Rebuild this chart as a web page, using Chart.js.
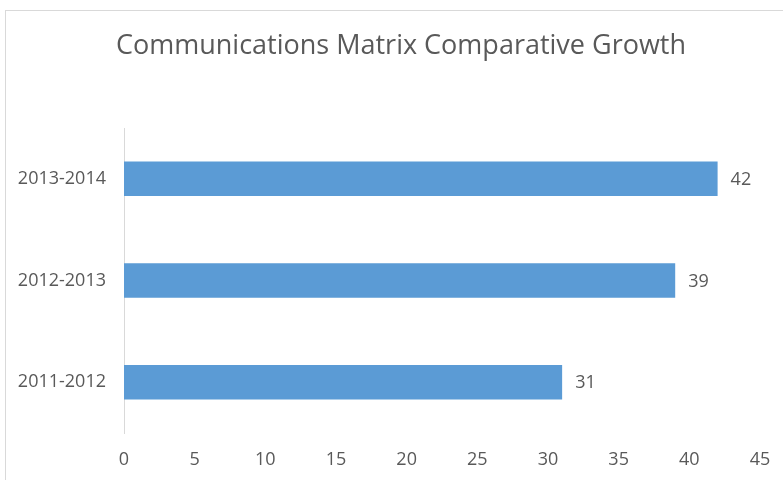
<!DOCTYPE html>
<html>
<head>
<meta charset="utf-8">
<title>Communications Matrix Comparative Growth</title>
<script src="https://cdn.jsdelivr.net/npm/chart.js@4"></script>
<style>
  html, body { margin: 0; padding: 0; background: #fff; }
  #wrap { position: relative; width: 783px; height: 480px; overflow: hidden; }
  #frame {
    position: absolute; left: 5px; top: 10px; width: 820px; height: 520px;
    border: 1px solid #d9d9d9; box-sizing: border-box;
  }
  #growthChart { position: absolute; left: 0; top: 0; }
</style>
</head>
<body>
<div id="wrap">
  <div id="frame"></div>
  <canvas id="growthChart" width="783" height="480"></canvas>
</div>
<script>
const chartTitle = 'Communications Matrix Comparative Growth';
const periods = ['2013-2014', '2012-2013', '2011-2012'];
const growth = [42, 39, 31];
const xMin = 0;
const xMax = 45;
const xStep = 5;

const textColor = '#595959';
const fontFamily = '"Open Sans", sans-serif';

// title centred on the whole frame rather than the plot area
const frameTitle = {
    id: 'frameTitle',
    afterDraw(chart) {
        const ctx = chart.ctx;
        ctx.save();
        ctx.fillStyle = textColor;
        ctx.font = '27px ' + fontFamily;
        ctx.textAlign = 'center';
        ctx.textBaseline = 'middle';
        ctx.fillText(chartTitle, 401, 46);
        ctx.restore();
    }
};

// numbers printed just past the end of each bar
const barValueLabels = {
    id: 'barValueLabels',
    afterDatasetsDraw(chart) {
        const ctx = chart.ctx;
        const meta = chart.getDatasetMeta(0);
        ctx.save();
        ctx.fillStyle = textColor;
        ctx.font = '18px ' + fontFamily;
        ctx.textAlign = 'left';
        ctx.textBaseline = 'middle';
        meta.data.forEach((bar, i) => {
            ctx.fillText(String(growth[i]), bar.x + 13, bar.y + 1);
        });
        ctx.restore();
    }
};

new Chart(document.getElementById('growthChart'), {
    type: 'bar',
    data: {
        labels: periods,
        datasets: [{
            data: growth,
            backgroundColor: '#5b9bd5',
            borderWidth: 0,
            categoryPercentage: 1,
            barPercentage: 0.34
        }]
    },
    options: {
        indexAxis: 'y',
        responsive: false,
        animation: false,
        layout: {
            padding: { left: 0, right: 23, top: 128, bottom: 0 }
        },
        plugins: {
            legend: { display: false },
            tooltip: { enabled: false },
            title: { display: false }
        },
        scales: {
            x: {
                min: xMin,
                max: xMax,
                ticks: {
                    stepSize: xStep,
                    color: textColor,
                    font: { family: fontFamily, size: 18 },
                    padding: 8
                },
                grid: { display: false },
                border: { display: false },
                afterFit(scale) { scale.height = 47; }
            },
            y: {
                ticks: {
                    color: textColor,
                    font: { family: fontFamily, size: 18 },
                    padding: 18
                },
                grid: { display: false, drawTicks: false },
                border: { display: true, color: '#d9d9d9', width: 1 },
                afterFit(scale) { scale.width = 124; }
            }
        }
    },
    plugins: [barValueLabels, frameTitle]
});
</script>
</body>
</html>
